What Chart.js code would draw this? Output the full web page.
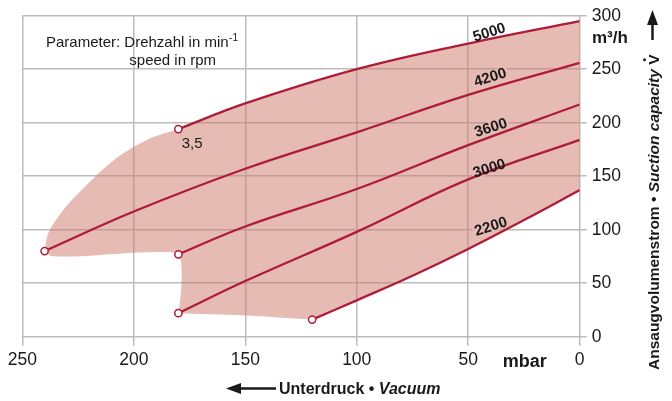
<!DOCTYPE html>
<html>
<head>
<meta charset="utf-8">
<script src="https://cdn.jsdelivr.net/npm/chart.js@4.4.1/dist/chart.umd.min.js"></script>
<style>
  html, body { margin: 0; padding: 0; background: #fff; }
  canvas { display: block; }
</style>
</head>
<body>
<canvas id="chart" width="672" height="401"></canvas>
<script>
// axis ticks
const pressureTicks = [250, 200, 150, 100, 50, 0];
const flowTicks = [0, 50, 100, 150, 200, 250, 300];

// speed curves: pressure (mbar) and suction capacity (m3/h)
const speeds = ['5000', '4200', '3600', '3000', '2200'];
const rpm5000P = [180, 150, 100, 50, 0];
const rpm5000V = [194, 218, 250, 274, 295];
const rpm4200P = [240, 200, 150, 100, 50, 0];
const rpm4200V = [80, 117, 157, 191, 226, 256];
const rpm3600P = [180, 150, 100, 50, 0];
const rpm3600V = [77, 103, 138, 179, 217];
const rpm3000P = [180, 150, 100, 50, 0];
const rpm3000V = [22, 52, 98, 147, 184];
const rpm2200P = [120, 100, 75, 50, 25, 0];
const rpm2200V = [16, 34, 57, 82, 109, 137];

// edges of the shaded range that are not on a speed curve
const leftEdgeP = [240, 238.5, 234.6, 227.7, 209, 193, 180];
const leftEdgeV = [80, 96, 110, 128, 165, 185, 194];
const bottomEdgeP = [120, 128, 151, 180];
const bottomEdgeV = [16, 17, 20, 22];
const notchP = [180, 179, 178.5, 179, 180];
const notchV = [22, 37, 59, 72, 77];
const lowerLeftP = [180, 182, 200, 222, 237, 240];
const lowerLeftV = [77, 79, 78.5, 75.5, 75.5, 80];

// where the speed numbers sit
const labelP = [40.5, 40.1, 39.8, 40.5, 39.8];
const labelV = [284, 242, 195, 157, 102.6];

const FONT = '"Liberation Sans", Arial, Helvetica, sans-serif';
const RED = '#ae1c3a';
const TXT = '#1a1a1a';
const GRID = '#bcbcbc';
const ANG = -17.5 * Math.PI / 180;

const zip = (P, V) => P.map((p, i) => ({ x: p, y: V[i] }));

// closed outline, corners doubled so the spline keeps them sharp
const c5000 = zip(rpm5000P, rpm5000V);
const c2200 = zip(rpm2200P, rpm2200V);
const rev2200 = c2200.slice().reverse();
const shape = [
  ...zip(leftEdgeP, leftEdgeV),
  ...c5000.slice(1),
  c5000[c5000.length - 1],
  ...rev2200.slice(0, 1), ...rev2200,
  rev2200[rev2200.length - 1],
  ...zip(bottomEdgeP, bottomEdgeV).slice(1),
  { x: bottomEdgeP[bottomEdgeP.length - 1], y: bottomEdgeV[bottomEdgeV.length - 1] },
  ...zip(notchP, notchV).slice(1),
  { x: notchP[notchP.length - 1], y: notchV[notchV.length - 1] },
  ...zip(lowerLeftP, lowerLeftV).slice(1)
];

const curve = (P, V) => ({
  data: zip(P, V),
  borderColor: RED,
  borderWidth: 2.3,
  tension: 0.4,
  fill: false,
  order: 1,
  pointRadius: c => c.dataIndex === 0 ? 3.6 : 0,
  pointBackgroundColor: '#fff',
  pointBorderColor: RED,
  pointBorderWidth: 1.5
});

const textPlugin = {
  id: 'texts',
  beforeDatasetsDraw(chart) {
    // gridlines are broken behind the speed numbers
    const { ctx, scales: { x, y } } = chart;
    ctx.save();
    ctx.font = 'bold 15px ' + FONT;
    ctx.fillStyle = '#fff';
    speeds.forEach((t, i) => {
      const w = ctx.measureText(t).width;
      ctx.save();
      ctx.translate(x.getPixelForValue(labelP[i]), y.getPixelForValue(labelV[i]));
      ctx.rotate(ANG);
      ctx.fillRect(-w / 2 - 2, -6.5, w + 4, 12);
      ctx.restore();
    });
    ctx.restore();
  },
  afterDatasetsDraw(chart) {
    const { ctx, scales: { x, y } } = chart;
    ctx.save();
    ctx.fillStyle = TXT;
    ctx.textBaseline = 'alphabetic';
    ctx.textAlign = 'left';

    // parameter note
    ctx.font = '15px ' + FONT;
    const s1 = 'Parameter: Drehzahl in min';
    ctx.fillText(s1, 46, 47.3);
    const w1 = ctx.measureText(s1).width;
    ctx.font = '10px ' + FONT;
    ctx.fillText('-1', 46 + w1 + 0.5, 41);
    ctx.font = '15px ' + FONT;
    ctx.fillText('speed in rpm', 129.3, 65);

    // 3,5 next to the 5000 start point
    const m = chart.getDatasetMeta(1).data[0];
    ctx.fillText('3,5', m.x + 3.3, m.y + 19);

    // speed numbers
    ctx.font = 'bold 15px ' + FONT;
    ctx.textAlign = 'center';
    ctx.textBaseline = 'middle';
    speeds.forEach((t, i) => {
      ctx.save();
      ctx.translate(x.getPixelForValue(labelP[i]), y.getPixelForValue(labelV[i]));
      ctx.rotate(ANG);
      ctx.fillText(t, 0, 0);
      ctx.restore();
    });

    // units
    ctx.textAlign = 'left';
    ctx.textBaseline = 'alphabetic';
    ctx.font = 'bold 18px ' + FONT;
    ctx.fillText('mbar', 502.7, 366.7);
    ctx.font = 'bold 17px ' + FONT;
    ctx.fillText('m³/h', 592, 43.3);

    // right axis title, reading upwards
    ctx.save();
    ctx.translate(659, 370);
    ctx.rotate(-Math.PI / 2);
    let cx = 0;
    const part = (t, f) => { ctx.font = f; ctx.fillText(t, cx, 0); const w = ctx.measureText(t).width; cx += w; return w; };
    part('Ansaugvolumenstrom', 'bold 15.5px ' + FONT);
    part(' • ', 'bold 15.5px ' + FONT);
    part('Suction capacity', 'italic bold 15.5px ' + FONT);
    part(' ', 'bold 15.5px ' + FONT);
    const vx = cx;
    const vw = part('V', 'bold 15.5px ' + FONT);
    ctx.beginPath();
    ctx.arc(vx + vw / 2, -14.5, 1.5, 0, Math.PI * 2);
    ctx.fill();
    // arrow up
    ctx.strokeStyle = TXT;
    ctx.lineWidth = 2.5;
    ctx.beginPath();
    ctx.moveTo(330, -6.5);
    ctx.lineTo(348, -6.5);
    ctx.stroke();
    ctx.beginPath();
    ctx.moveTo(360, -6.5);
    ctx.lineTo(345, -12);
    ctx.lineTo(345, -1);
    ctx.closePath();
    ctx.fill();
    ctx.restore();

    // bottom axis title with arrow pointing left
    ctx.strokeStyle = TXT;
    ctx.lineWidth = 2.5;
    ctx.beginPath();
    ctx.moveTo(238, 388.5);
    ctx.lineTo(276, 388.5);
    ctx.stroke();
    ctx.beginPath();
    ctx.moveTo(226, 388.5);
    ctx.lineTo(241, 383);
    ctx.lineTo(241, 394);
    ctx.closePath();
    ctx.fill();
    cx = 0;
    ctx.save();
    ctx.translate(279, 394.3);
    part('Unterdruck', 'bold 16px ' + FONT);
    part(' • ', 'bold 16px ' + FONT);
    part('Vacuum', 'italic bold 16px ' + FONT);
    ctx.restore();

    ctx.restore();
  }
};

new Chart(document.getElementById('chart'), {
  type: 'line',
  data: {
    datasets: [
      {
        data: shape,
        borderWidth: 0,
        pointRadius: 0,
        tension: 0.3,
        fill: 'shape',
        backgroundColor: 'rgba(205,119,104,0.5)',
        order: 2
      },
      curve(rpm5000P, rpm5000V),
      curve(rpm4200P, rpm4200V),
      curve(rpm3600P, rpm3600V),
      curve(rpm3000P, rpm3000V),
      curve(rpm2200P, rpm2200V)
    ]
  },
  options: {
    responsive: false,
    animation: false,
    events: [],
    layout: { padding: { left: 22.3, top: 15.7, right: 0, bottom: 0 } },
    plugins: { legend: { display: false }, tooltip: { enabled: false } },
    scales: {
      x: {
        type: 'linear',
        reverse: true,
        min: 0,
        max: 250,
        afterBuildTicks: s => { s.ticks = pressureTicks.map(v => ({ value: v })); },
        afterFit: s => { s.height = 64.3; },
        ticks: { font: { family: FONT, size: 17.5 }, color: TXT, padding: 4, maxRotation: 0, autoSkip: false },
        grid: { color: GRID, lineWidth: 1.5, tickLength: 9 },
        border: { display: false }
      },
      y: {
        type: 'linear',
        position: 'right',
        min: 0,
        max: 300,
        afterBuildTicks: s => { s.ticks = flowTicks.map(v => ({ value: v })); },
        afterFit: s => { s.width = 92.3; },
        ticks: { font: { family: FONT, size: 17.5 }, color: TXT, padding: 5 },
        grid: { color: GRID, lineWidth: 1.5, tickLength: 7 },
        border: { display: false }
      }
    }
  },
  plugins: [textPlugin]
});
</script>
</body>
</html>
